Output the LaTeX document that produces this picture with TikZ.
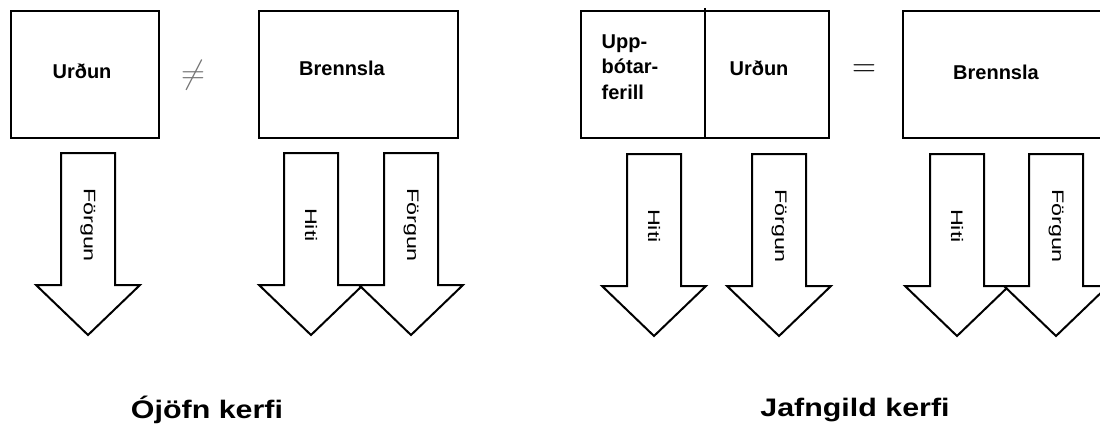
\documentclass[tikz,border=0pt]{standalone}
\usepackage{fontspec}
\setmainfont{Liberation Sans}

\tikzset{
  box/.style={draw, line width=2.2pt},
  lbl/.style={font=\fontsize{15}{19}\selectfont\bfseries},
  flow/.style={draw, line width=1.5pt, fill=white, line join=miter},
  flowtext/.style={rotate=-90, font=\fontsize{12.5}{14}\selectfont},
  title/.style={font=\fontsize{19}{22}\selectfont\bfseries},
  rel/.style={font=\fontsize{25}{25}\selectfont}
}

% block arrow pointing down: centre x, top y, node name, text
\newcommand{\flowarrow}[4]{%
  \draw[flow] (#1-27,#2) -- (#1+27,#2) -- (#1+27,#2+132) -- (#1+52,#2+132)
    -- (#1,#2+182) -- (#1-52,#2+132) -- (#1-27,#2+132) -- cycle;
  \node[flowtext] (#3) at (#1,#2+72) {\scalebox{1.4}[1]{#4}};
}

\begin{document}
\begin{tikzpicture}[x=0.75pt, y=-0.75pt]
  \clip (0,0) rectangle (1100,428);

  % left system
  \draw[box] (11,11) rectangle (159,138);
  \node[lbl] (urdun1) at (82,71) {Urðun};
  \node[rel, text=black!55] (neq) at (193,75) {$\neq$};
  \draw[box] (259,11) rectangle (458,138);
  \node[lbl] (brenn1) at (342,68) {Brennsla};

  \flowarrow{88}{153}{forg1}{Förgun}
  \flowarrow{311}{153}{hiti1}{Hiti}
  \flowarrow{411}{153}{forg2}{Förgun}

  \node[title] (ojofn) at (207,410) {\scalebox{1.2}[1]{Ójöfn kerfi}};

  % right system
  \draw[box] (581,11) rectangle (829,138);
  \draw[box] (705,8) -- (705,138);
  \node[lbl, anchor=west, align=left] (upp) at (597,67) {Upp-\\bótar-\\ferill};
  \node[lbl] (urdun2) at (759,68) {Urðun};
  \node[rel] (eq) at (864,71) {$=$};
  \draw[box] (903,11) rectangle (1102,138);
  \node[lbl] (brenn2) at (996,72) {Brennsla};

  \flowarrow{654}{154}{hiti2}{Hiti}
  \flowarrow{779}{154}{forg3}{Förgun}
  \flowarrow{957}{154}{hiti3}{Hiti}
  \flowarrow{1056}{154}{forg4}{Förgun}

  \node[title] (jafn) at (855,410) {\scalebox{1.2}[1]{Jafngild kerfi}};
\end{tikzpicture}
\end{document}
